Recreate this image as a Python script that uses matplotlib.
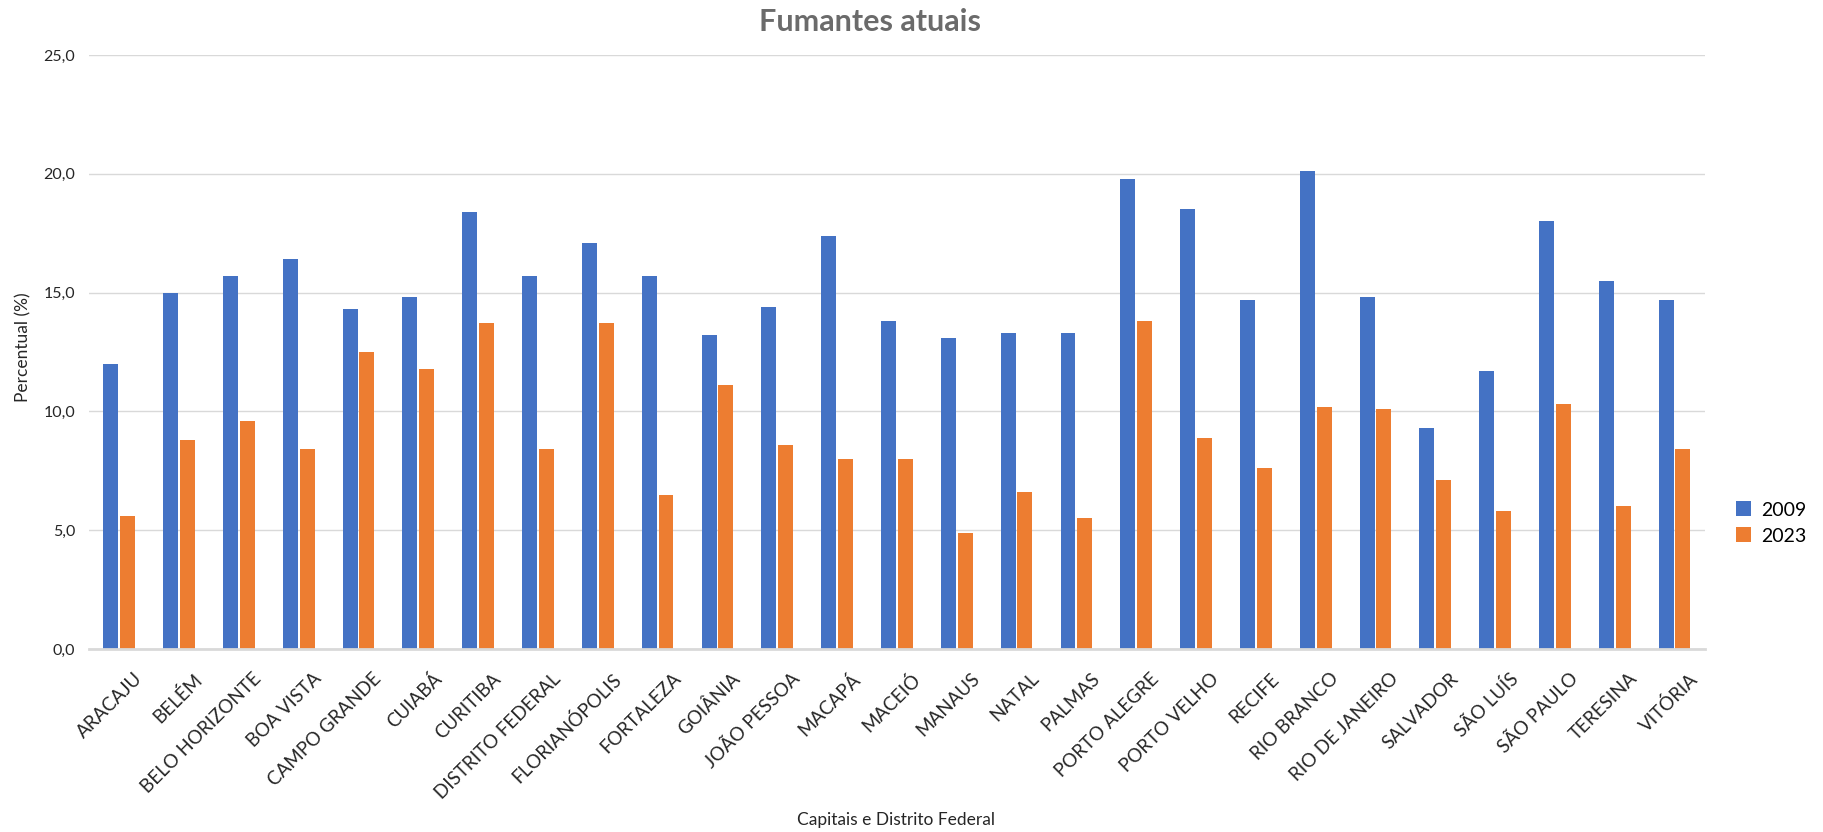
import numpy as np
import matplotlib
matplotlib.use("Agg")
import matplotlib.pyplot as plt
import matplotlib.ticker as ticker
import matplotlib.transforms as mtransforms

# Data
capitais = ['ARACAJU', 'BELÉM', 'BELO HORIZONTE', 'BOA VISTA', 'CAMPO GRANDE', 'CUIABÁ',
            'CURITIBA', 'DISTRITO FEDERAL', 'FLORIANÓPOLIS', 'FORTALEZA', 'GOIÂNIA',
            'JOÃO PESSOA', 'MACAPÁ', 'MACEIÓ', 'MANAUS', 'NATAL', 'PALMAS', 'PORTO ALEGRE',
            'PORTO VELHO', 'RECIFE', 'RIO BRANCO', 'RIO DE JANEIRO', 'SALVADOR', 'SÃO LUÍS',
            'SÃO PAULO', 'TERESINA', 'VITÓRIA']
valores_2009 = [12.0, 15.0, 15.7, 16.4, 14.3, 14.8, 18.4, 15.7, 17.1, 15.7, 13.2,
                14.4, 17.4, 13.8, 13.1, 13.3, 13.3, 19.8, 18.5, 14.7, 20.1, 14.8,
                9.3, 11.7, 18.0, 15.5, 14.7]
valores_2023 = [5.6, 8.8, 9.6, 8.4, 12.5, 11.8, 13.7, 8.4, 13.7, 6.5, 11.1,
                8.6, 8.0, 8.0, 4.9, 6.6, 5.5, 13.8, 8.9, 7.6, 10.2, 10.1,
                7.1, 5.8, 10.3, 6.0, 8.4]
anos = ['2009', '2023']
yticks = [0, 5, 10, 15, 20, 25]

plt.rcParams['font.family'] = ['Lato', 'DejaVu Sans']

fig = plt.figure(figsize=(18.23, 8.32), dpi=100)
ax = fig.add_axes([0.049, 0.22, 0.886, 0.7139])

x = np.arange(len(capitais))
w = 0.25
off = 0.14
ax.bar(x - off, valores_2009, width=w, color='#4472C4', label=anos[0], zorder=3)
ax.bar(x + off, valores_2023, width=w, color='#ED7D31', label=anos[1], zorder=3)

ax.set_xlim(-0.5, len(capitais) - 0.5)
ax.set_ylim(0, 25)
ax.set_yticks(yticks)
ax.yaxis.set_major_formatter(ticker.FuncFormatter(lambda v, p: f"{v:.1f}".replace('.', ',')))
ax.grid(axis='y', color='#d9d9d9', linewidth=1.0, zorder=0)

for s in ['top', 'right', 'left']:
    ax.spines[s].set_visible(False)
ax.spines['bottom'].set_color('#d9d9d9')
ax.spines['bottom'].set_linewidth(2)
ax.spines['bottom'].set_zorder(4)

ax.tick_params(axis='y', length=0, pad=10, labelsize=11.5, labelcolor='#262626')
ax.tick_params(axis='x', length=0, pad=15, labelsize=13.5, labelcolor='#262626')
ax.set_xticks(x)
ax.set_xticklabels(capitais, rotation=45, ha='right', rotation_mode='anchor')
# nudge the rotated labels right, like the original
shift = mtransforms.ScaledTranslation(0.14, 0, fig.dpi_scale_trans)
for lbl in ax.get_xticklabels():
    lbl.set_transform(lbl.get_transform() + shift)

fig.text(0.0126, 1 - 347 / 832, 'Percentual (%)', rotation=90, ha='center', va='center',
         fontsize=12.5, color='#262626')
fig.text(0.4915, 1 - 820 / 832, 'Capitais e Distrito Federal', ha='center', va='center',
         fontsize=12.5, color='#262626')
fig.text(0.477, 1 - 22 / 832, 'Fumantes atuais', ha='center', va='center',
         fontsize=22, fontweight='bold', color='#6b6b6b')

fig.legend(loc='center left', bbox_to_anchor=(1728 / 1823, 1 - 523 / 832), frameon=False,
           fontsize=14, handlelength=0.8, handleheight=0.8, handletextpad=0.5,
           labelspacing=0.45, borderaxespad=0)

fig.savefig('out.png', dpi=100)
